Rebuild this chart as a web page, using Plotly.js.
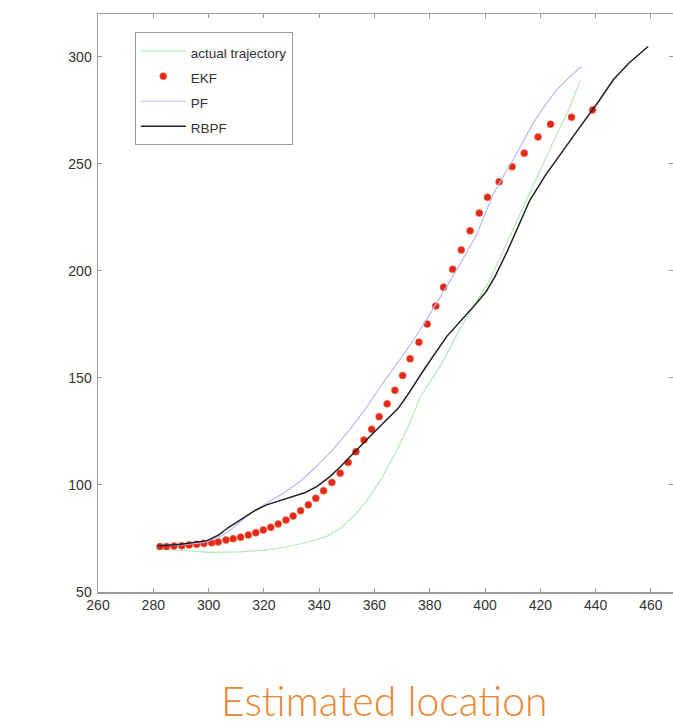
<!DOCTYPE html>
<html>
<head>
<meta charset="utf-8">
<script src="https://cdn.plot.ly/plotly-3.0.1.min.js"></script>
<style>html,body{margin:0;padding:0;background:#fff;}#chart{width:673px;height:725px;}</style>
</head>
<body>
<div id="chart"></div>
<script>
// actual trajectory
var actualX = [282, 290, 300, 311.4, 320, 327, 335, 342.7, 348, 353.5, 358, 363, 368, 372.5, 376.5, 383.7, 392.1, 401.8, 405, 411, 416, 421, 426, 430.5, 434.5];
var actualY = [70, 69.5, 68.5, 68.7, 69.6, 70.8, 73, 76, 80, 86.8, 94, 104, 116, 128, 141, 155.3, 175.6, 195.8, 205, 222, 236, 250, 264, 276, 289];

// EKF estimates
var ekfX = [282.4, 284.8, 287.5, 290.3, 293.0, 295.7, 298.3, 301.1, 303.5, 306.3, 308.9, 311.6, 314.4, 317.1, 319.8, 322.5, 325.2, 328, 330.6, 333.3, 336.1, 338.8, 341.6, 344.6, 347.6, 350.5, 353.3, 356.2, 359, 361.7, 364.6, 367.4, 370.2, 372.9, 376.1, 379.1, 382.2, 385, 388.3, 391.4, 394.6, 397.9, 400.9, 405.1, 409.8, 414.2, 419.2, 423.7, 431.3, 438.9];
var ekfY = [71.2, 71.2, 71.5, 71.6, 72, 72.3, 72.7, 73, 73.4, 74.3, 74.9, 75.6, 76.6, 77.7, 79, 80.2, 81.8, 83.6, 85.5, 88, 90.7, 93.8, 97.3, 101.2, 105.5, 110.5, 115.5, 121, 126, 131.9, 137.9, 144.2, 151.1, 158.9, 166.7, 175.2, 183.6, 192.4, 200.8, 209.8, 218.7, 227, 234.4, 241.6, 248.7, 255, 262.6, 268.5, 271.8, 275.2];

// PF estimates
var pfX = [281.5, 290, 298, 303, 308, 315, 321, 327, 333, 339, 345, 351, 357, 363, 370, 376.5, 383, 390, 397, 403, 406.5, 410.2, 413.8, 417.4, 421.5, 425.9, 430.5, 434.9];
var pfY = [71.5, 72, 73, 75, 79, 86.8, 91.5, 96.1, 101.5, 108.6, 116.5, 125.7, 136, 147.5, 160, 172.4, 186, 201, 217, 236, 244, 251.9, 260.5, 269, 277, 284.6, 290.5, 295.5];

// RBPF estimates
var rbpfX = [281.5, 290, 299.4, 303.5, 307, 310.5, 313.8, 317, 321, 326, 330.6, 335, 339.1, 343.9, 347.5, 351.1, 354, 357.1, 362.5, 368.6, 371.6, 378.5, 386.1, 391.5, 396.9, 400.5, 403.6, 408, 412.6, 416.2, 422, 428.3, 434.5, 441, 446.4, 452, 459];
var rbpfY = [71.5, 72.3, 74, 76.5, 80, 83, 85.7, 88.2, 90.7, 92.8, 94.5, 96.5, 99.2, 103.9, 108.3, 113.2, 117, 121, 128, 135.8, 141.3, 155, 169.3, 177, 184.9, 190.5, 197.3, 209, 222.3, 233, 245, 256.5, 267.5, 279, 289.3, 297, 304.8];

var xTicks = [260, 280, 300, 320, 340, 360, 380, 400, 420, 440, 460];
var yTicks = [50, 100, 150, 200, 250, 300];

function lbl(s) { return '<span style="font-size:13.5px">' + s + '</span>'; }

var traces = [
  {x: actualX, y: actualY, type: 'scatter', mode: 'lines', name: lbl('actual trajectory'),
   line: {color: '#b4ebb8', width: 1.2}},
  {x: ekfX, y: ekfY, type: 'scatter', mode: 'markers', name: lbl('EKF'),
   marker: {color: '#e3281c', size: 7, line: {width: 0.6, color: '#f06a3a'}}},
  {x: pfX, y: pfY, type: 'scatter', mode: 'lines', name: lbl('PF'),
   line: {color: '#b9b9f2', width: 1.2}},
  {x: rbpfX, y: rbpfY, type: 'scatter', mode: 'lines', name: lbl('RBPF'),
   line: {color: '#222222', width: 1.5}}
];

var axisCommon = {
  showgrid: false, zeroline: false, showline: true, linecolor: '#9a9a9a', linewidth: 1.5,
  mirror: 'ticks', ticks: 'inside', ticklen: 4, tickcolor: '#9a9a9a', tickwidth: 1,
  tickfont: {family: 'Liberation Sans, Arial, sans-serif', size: 14, color: '#333'}
};

var layout = {
  width: 673, height: 725,
  margin: {l: 98, r: 0, t: 14, b: 133},
  paper_bgcolor: '#fff', plot_bgcolor: '#fff',
  showlegend: true,
  xaxis: Object.assign({}, axisCommon, {range: [260, 468], tickvals: xTicks, ticktext: xTicks.map(String)}),
  yaxis: Object.assign({}, axisCommon, {range: [50, 320], tickvals: yTicks, ticktext: yTicks.map(String), ticklabelstandoff: 2}),
  legend: {
    x: 0.064, y: 0.968, xanchor: 'left', yanchor: 'top',
    bordercolor: '#999', borderwidth: 1, bgcolor: '#fff',
    font: {family: 'Liberation Sans, Arial, sans-serif', size: 17, color: '#333'},
    itemwidth: 45, tracegroupgap: 0
  },
  annotations: [{
    text: 'Estimated location', xref: 'paper', yref: 'paper', x: 0.499, y: -0.1875,
    xanchor: 'center', yanchor: 'middle', showarrow: false, height: 46, valign: 'middle',
    font: {family: 'Lato, sans-serif', size: 41, color: '#ec8532', weight: 300}
  }]
};

Plotly.newPlot('chart', traces, layout, {displayModeBar: false, staticPlot: true});
</script>
</body>
</html>
